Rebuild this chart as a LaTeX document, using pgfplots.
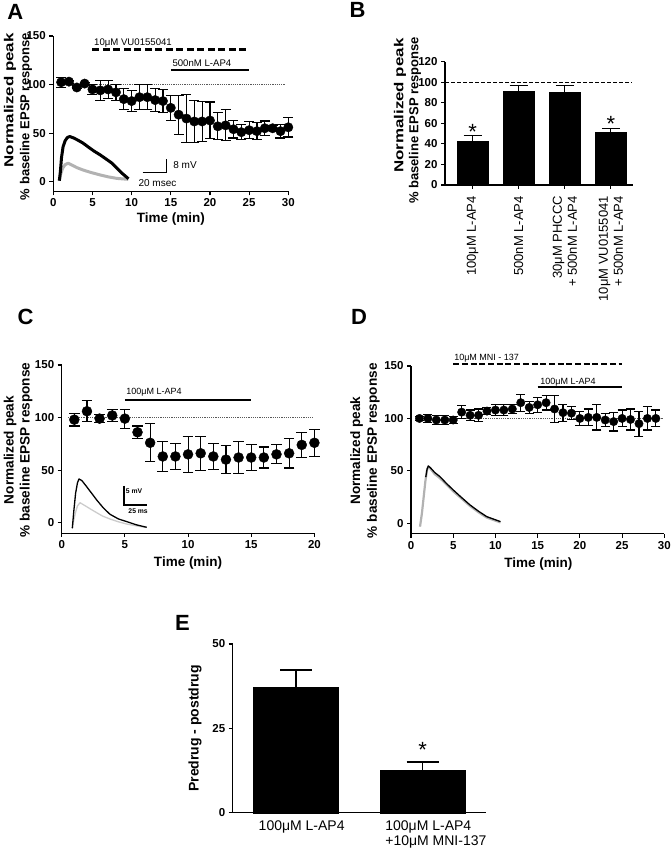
\documentclass[border=0pt]{standalone}
\usepackage{pgfplots}
\pgfplotsset{compat=1.18}
\usepackage{fontspec}
\setmainfont{Liberation Sans}
\newcommand{\fs}[1]{\fontsize{#1}{#1}\selectfont}
\begin{document}
\begin{tikzpicture}
\useasboundingbox (0pt,0pt) rectangle (670pt,852pt);
\pgfplotsset{
  gp/.style={
    scale only axis, anchor=south west, clip=false,
    axis x line*=bottom, axis y line*=left,
    axis line style={line width=1.1pt,-},
    tick style={black, line width=1.1pt},
    tick align=outside, major tick length=4pt,
    yticklabel style={font=\fs{11.5}\bfseries},
    xticklabel style={font=\fs{11.5}\bfseries},
    /pgf/number format/assume math mode=true,
  },
  pts/.style={only marks, mark=*, mark size=#1, mark options={solid, fill=black, draw=black},
    error bars/.cd, y dir=both, y explicit,
    error bar style={line width=1.1pt, black},
    error mark options={rotate=90, line width=1.1pt, mark size=#1+0.3pt, black}},
  hund/.style={line width=0.8pt, black!65, dash pattern=on 1.2pt off 1pt},
}
% panel letters
\node[font=\fs{22}\bfseries, inner sep=0pt] at (15.3pt,840.3pt) {A};
\node[font=\fs{22}\bfseries, inner sep=0pt] at (357.5pt,842pt) {B};
\node[font=\fs{22}\bfseries, inner sep=0pt] at (25.6pt,535.3pt) {C};
\node[font=\fs{22}\bfseries, inner sep=0pt] at (359pt,535.3pt) {D};
\node[font=\fs{22}\bfseries, inner sep=0pt] at (182.5pt,229.5pt) {E};

% ---------------- Panel A ----------------
\node[rotate=90, anchor=east, inner sep=0pt, font=\fs{13}\bfseries] at (10pt,819pt) {\scalebox{1.3}[1]{Normalized peak}};
\node[rotate=90, anchor=east, inner sep=0pt, font=\fs{13}\bfseries] at (26pt,819pt) {\% baseline EPSP response};
\node[font=\fs{13.5}\bfseries, inner sep=0pt] at (170.8pt,633pt) {Time (min)};
\begin{axis}[gp, at={(53.3pt,660.6pt)}, width=235pt, height=155.4pt,
  xmin=0, xmax=30, ymin=-10, ymax=150,
  xtick={0,5,...,30}, ytick={0,50,100,150}]
\addplot[hund] coordinates {(1,100) (29.6,100)};
\addplot[line width=2.6pt, dash pattern=on 7pt off 3.5pt] coordinates {(5,136) (25,136)};
\addplot[line width=2.3pt] coordinates {(15,115) (25,115)};
\node[anchor=west, inner sep=0pt, font=\fs{9.6}] at (axis cs:5.2,143) {10μM VU0155041};
\node[anchor=west, inner sep=0pt, font=\fs{9.6}] at (axis cs:15.2,121.5) {500nM L-AP4};
% inset traces
\addplot[line width=3pt, black!30, line join=round] coordinates {(0.77,1) (0.95,8) (1.2,14) (1.5,17.5) (1.9,19) (2.4,17) (3.0,14.5) (3.8,12) (4.8,9.5) (6.0,6.9) (7.0,5) (8.1,3.4) (9.57,2.4)};
\addplot[line width=3pt, black, line join=round] coordinates {(0.77,1) (0.9,10) (1.05,25) (1.25,36) (1.5,42) (1.8,45.5) (2.1,46.5) (2.6,45) (3.2,42.5) (3.8,39.7) (4.5,35.5) (5.2,31.5) (6.0,27.5) (6.8,23) (7.5,19) (8.1,14) (8.8,8.5) (9.6,3)};
\addplot[line width=1.2pt, black] coordinates {(11.4,9.3) (14.5,9.3) (14.5,23.8)};
\node[anchor=west, inner sep=0pt, font=\fs{10}] at (axis cs:15.3,17) {8 mV};
\node[inner sep=0pt, font=\fs{10}] at (axis cs:13.3,-1) {20 msec};
\addplot[pts=4.7pt] table[x=t, y=m, y error=e] {
t m e
1 102.4 5
2 103 1.5
3 97 1.5
4 101 1.5
5 95 5
6 94 10.5
7 95 9
8 92 8.5
9 85 11
10 83 10.5
11 87 13
12 87 13
13 84 12
14 83 12
15 76 13
16 69 20
17 65 24.5
18 62 22
19 62 21
20 63 19
21 57 14
22 58 16
23 54 9
24 51 8
25 53 8.6
26 52 8.5
27 55 7.5
28 55 2.5
29 52 7
30 56 10
};
\end{axis}

% ---------------- Panel B ----------------
\node[rotate=90, anchor=east, inner sep=0pt, font=\fs{13}\bfseries] at (400pt,813.7pt) {\scalebox{1.3}[1]{Normalized peak}};
\node[rotate=90, anchor=east, inner sep=0pt, font=\fs{13}\bfseries] at (415pt,815.3pt) {\% baseline EPSP response};
\begin{axis}[gp, at={(445pt,667pt)}, width=188pt, height=123.3pt,
  xmin=-0.6, xmax=3.48, ymin=0, ymax=120,
  ytick={0,20,...,120}, xtick={0,1,2,3},
  xticklabels={100μM L-AP4, 500nM L-AP4, {30μM PHCCC\\+ 500nM L-AP4}, {10μM VU0155041\\+ 500nM L-AP4}},
  xticklabel shift=7pt,
  xticklabel style={rotate=90, anchor=east, align=right, inner sep=0pt, font=\fontsize{13}{15}\selectfont\mdseries}]
\addplot[ybar, bar width=30.7pt, fill=black, draw=black,
  error bars/.cd, y dir=plus, y explicit,
  error bar style={line width=1.2pt, black},
  error mark options={rotate=90, line width=1.2pt, mark size=9pt, black}]
  coordinates {(0,42.8) +- (0,5.2) (1,90.8) +- (0,5.9) (2,90.2) +- (0,6.8) (3,51.2) +- (0,3.9)};
\addplot[line width=1pt, black, dash pattern=on 4pt off 2pt] coordinates {(-0.6,100) (3.45,100)};
\node[inner sep=0pt, font=\fs{22}, yshift=-4.7pt] at (axis cs:0,56.7) {*};
\node[inner sep=0pt, font=\fs{22}, yshift=-4.7pt] at (axis cs:3,64.2) {*};
\end{axis}

% ---------------- Panel C ----------------
\node[rotate=90, inner sep=0pt, font=\fs{13.6}\bfseries] at (10pt,402pt) {Normalized peak};
\node[rotate=90, inner sep=0pt, font=\fs{13.6}\bfseries] at (26pt,402pt) {\% baseline EPSP response};
\node[font=\fs{13.5}\bfseries, inner sep=0pt] at (188pt,288.7pt) {Time (min)};
\begin{axis}[gp, at={(61.7pt,318.8pt)}, width=252.7pt, height=168.2pt,
  xmin=0, xmax=20, ymin=-10, ymax=150,
  xtick={0,5,...,20}, ytick={0,50,100,150}]
\addplot[hund] coordinates {(0.5,100) (20,100)};
\addplot[line width=2.5pt] coordinates {(5,116.5) (15,116.5)};
\node[anchor=west, inner sep=0pt, font=\fs{9}] at (axis cs:5.1,124) {100μM L-AP4};
\addplot[line width=1.3pt, black!20, line join=round] coordinates {(0.84,-5.3) (0.95,2) (1.1,10) (1.25,16) (1.45,19) (1.8,16.5) (2.5,11.4) (3.2,6.5) (3.82,3.5) (4.5,0.8) (5.15,-1.3) (5.9,-3) (6.73,-4.6)};
\addplot[line width=1.3pt, black, line join=round] coordinates {(0.84,-5.3) (0.95,10) (1.1,28) (1.25,38) (1.37,41.6) (1.6,40) (1.98,34.2) (2.4,27.5) (2.77,21.6) (3.3,14) (3.82,8) (4.5,3.5) (5.15,1) (5.9,-2) (6.73,-4.4)};
\addplot[line width=1.1pt, black] coordinates {(4.93,35) (4.93,16.8) (6.78,16.8)};
\node[anchor=west, inner sep=0pt, font=\fs{6.8}\bfseries] at (axis cs:5.07,30.4) {5 mV};
\node[anchor=west, inner sep=0pt, font=\fs{6.8}\bfseries] at (axis cs:5.27,11.4) {25 ms};
\addplot[pts=5pt] table[x=t, y=m, y error=e] {
t m e
1 98 6
2 106 10
3 99 4
4 102 6
5 99 9
6 86 6
7 76 18
8 63 14
9 63 12
10 65 17
11 66 16
12 63 12
13 60 13
14 62 15
15 62 12
16 62 10
17 65 9
18 66 14
19 74 12
20 76 13
};
\end{axis}

% ---------------- Panel D ----------------
\node[rotate=90, inner sep=0pt, font=\fs{13.6}\bfseries] at (356.7pt,401.3pt) {Normalized peak};
\node[rotate=90, inner sep=0pt, font=\fs{13.6}\bfseries] at (373.3pt,401.3pt) {\% baseline EPSP response};
\node[font=\fs{13.5}\bfseries, inner sep=0pt] at (538.3pt,287.7pt) {Time (min)};
\begin{axis}[gp, at={(411pt,318.2pt)}, width=253.3pt, height=167.8pt,
  xmin=0, xmax=30, ymin=-10, ymax=150,
  xtick={0,5,...,30}, ytick={0,50,100,150}]
\addplot[hund] coordinates {(1,100) (29.9,100)};
\addplot[line width=2pt, dash pattern=on 6pt off 2.7pt] coordinates {(5,151.6) (25,151.6)};
\addplot[line width=1.8pt] coordinates {(15,129.6) (25,129.6)};
\node[anchor=west, inner sep=0pt, font=\fs{9}] at (axis cs:5.1,157) {10μM MNI - 137};
\node[anchor=west, inner sep=0pt, font=\fs{9}] at (axis cs:15.3,135) {100μM L-AP4};
\addplot[line width=2.2pt, black!30, line join=round] coordinates {(1.07,-3.2) (1.3,10) (1.5,25) (1.7,40) (1.9,51) (2.05,54) (2.3,52) (2.8,47) (3.43,43) (4.2,37) (5.0,30.5) (6.0,23.5) (6.99,16.5) (8.0,10.5) (8.96,5.5) (10.6,0.8)};
\addplot[line width=1.3pt, black, line join=round] coordinates {(1.75,44) (1.9,51.5) (2.05,54.7) (2.3,53) (2.8,48.5) (3.43,44.5) (4.2,38) (5.0,31.8) (6.0,24.5) (6.99,17.5) (8.0,11.5) (8.96,6.4) (10.6,1.6)};
\addplot[pts=4.2pt] table[x=t, y=m, y error=e] {
t m e
1 100 2
2 100 4
3 98.5 4
4 98.5 4
5 98.5 3
6 106 6
7 103 5
8 103 6
9 107 3
10 108 5
11 108 5
12 109 4
13 115 8
14 110.5 6
15 113 7
16 115 7
17 109 13
18 105.5 8
19 105 6
20 100 7
21 101 8
22 101 12
23 98.5 6
24 97 9
25 100 8
26 99 10
27 95 12
28 100 11
29 100 8
};
\end{axis}

% ---------------- Panel E ----------------
\node[rotate=90, inner sep=0pt, font=\fs{14}\bfseries] at (195pt,123.7pt) {Predrug - postdrug};
\begin{axis}[gp, at={(232.7pt,39.3pt)}, width=253.3pt, height=168.7pt,
  xmin=-0.5, xmax=1.5, ymin=0, ymax=50,
  ytick={0,25,50}, xtick=\empty,
  extra x ticks={0,1},
  extra x tick labels={100μM L-AP4, {100μM L-AP4\\+10μM MNI-137}},
  extra x tick style={tick style={draw=none}},
  xticklabel style={anchor=north west, align=left, inner sep=0pt, xshift=-37.5pt, yshift=-4pt, font=\fontsize{14}{15}\selectfont\mdseries}]
\addplot[ybar, bar width=85pt, fill=black, draw=black,
  error bars/.cd, y dir=plus, y explicit,
  error bar style={line width=1.5pt, black},
  error mark options={rotate=90, line width=1.5pt, mark size=16pt, black}]
  coordinates {(0,37.05) +- (0,5.25) (1,12.65) +- (0,2.45)};
\node[inner sep=0pt, font=\fs{22}, yshift=-4.7pt] at (axis cs:1,19.9) {*};
\end{axis}
\end{tikzpicture}
\end{document}
